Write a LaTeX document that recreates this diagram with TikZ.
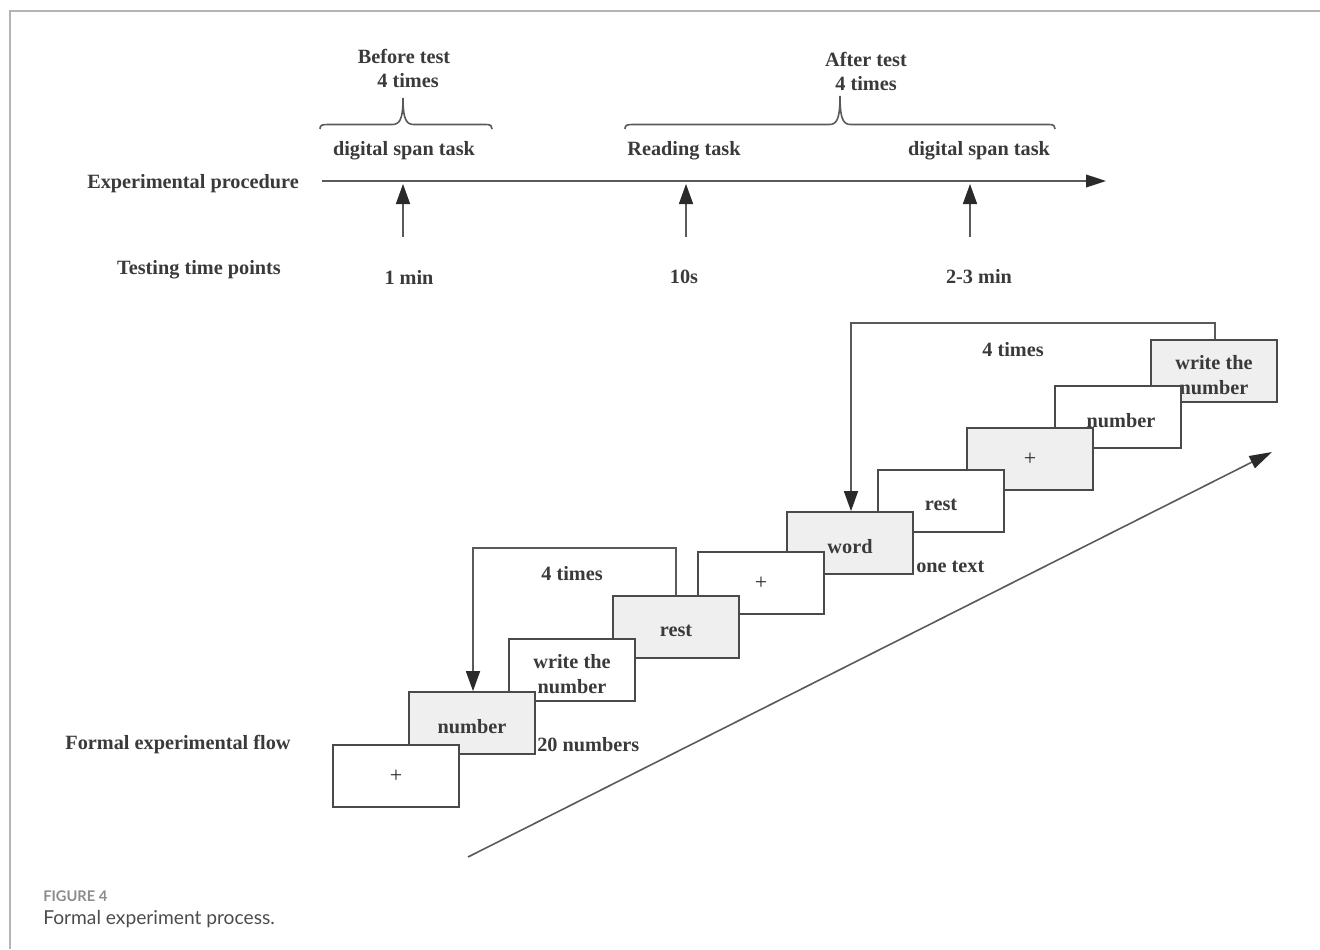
\documentclass[tikz,border=0pt]{standalone}
\usepackage{fontspec}
\setmainfont{Liberation Serif}
\newfontfamily\capfont{Lato}
\usetikzlibrary{arrows.meta}
\definecolor{ink}{HTML}{3A3A3A}
\definecolor{linec}{HTML}{5A5A5A}
\definecolor{boxline}{HTML}{4A4A4A}
\definecolor{headc}{HTML}{2A2A2A}
\definecolor{boxgray}{HTML}{EFEFEF}
\definecolor{framec}{HTML}{B4B4B4}
\begin{document}
\begin{tikzpicture}[x=0.75pt,y=-0.75pt,
  lbl/.style={font=\fontsize{15.2}{18.75}\selectfont\bfseries, text=ink, inner sep=0pt},
  stim/.style={draw=boxline, line width=1.3pt, minimum width=94.5pt, minimum height=46.5pt, inner sep=0pt},
  wbox/.style={stim, fill=white},
  gbox/.style={stim, fill=boxgray},
  btxt/.style={lbl, align=center, yshift=-3pt},
  plus/.style={font=\fontsize{16.5}{16.5}\selectfont, text=headc, inner sep=0pt},
  conn/.style={draw=linec, line width=1.2pt},
  tip/.style={-{Triangle[length=15pt,width=10.5pt,color=headc]}},
  brc/.style={draw=linec, line width=1.2pt}
]
\useasboundingbox (0,0) rectangle (1320,949);
\draw[framec, line width=1.5pt] (10,949) -- (10,11) -- (1320,11);

% ---- top: procedure timeline ----
\node[lbl] (bt) at (404,56) {Before test};
\node[lbl] (bt4) at (408,81) {4 times};
\node[lbl] (at) at (866,59) {After test};
\node[lbl] (at4) at (866,84) {4 times};

\draw[brc] (320,129) .. controls (320,125) and (322,124.5) .. (328,124.5) -- (392,124.5)
  .. controls (399,124.5) and (403,121) .. (403,98)
  .. controls (403,121) and (407,124.5) .. (414,124.5) -- (486,124.5)
  .. controls (491,124.5) and (492,126) .. (492,129);
\draw[brc] (625,129) .. controls (625,125) and (627,124.5) .. (633,124.5) -- (829,124.5)
  .. controls (836,124.5) and (840,121) .. (840,96)
  .. controls (840,121) and (844,124.5) .. (851,124.5) -- (1049,124.5)
  .. controls (1054,124.5) and (1055,126) .. (1055,129);

\node[lbl] (ds1) at (404,151) {digital span task};
\node[lbl] (rt) at (684,151) {Reading task};
\node[lbl] (ds2) at (979,151) {digital span task};

\node[lbl] (ep) at (193,184) {Experimental procedure};
\coordinate (tl0) at (322,181);
\coordinate (tl1) at (1106,181);
\draw[conn, -{Triangle[length=15pt,width=9.5pt,color=headc]}] (tl0) -- (tl1);

\coordinate (p1) at (403,184);
\coordinate (p2) at (686,184);
\coordinate (p3) at (970,184);
\coordinate (q1) at (403,237);
\coordinate (q2) at (686,237);
\coordinate (q3) at (970,237);
\draw[conn, tip] (q1) -- (p1);
\draw[conn, tip] (q2) -- (p2);
\draw[conn, tip] (q3) -- (p3);

\node[lbl] (ttp) at (199,270) {Testing time points};
\node[lbl] (t1) at (409,277) {1 min};
\node[lbl] (t2) at (684,277) {10s};
\node[lbl] (t3) at (979,277) {2-3 min};

% ---- bottom: formal flow ----
\node[lbl] (ff) at (178,745) {Formal experimental flow};

\node[gbox] (b10) at (1214,371) {};
\node[btxt] (b10t) at (b10) {write the\\number};
\node[wbox] (b9)  at (1118,417) {};
\node[btxt] (b9t) at (1121,417) {number};
\node[gbox] (b8)  at (1030,459) {};
\node[plus] (b8t) at (b8) {+};
\node[wbox] (b7)  at (941,501) {};
\node[btxt] (b7t) at (b7) {rest};
\node[gbox] (b6)  at (850,543) {};
\node[btxt] (b6t) at (b6) {word};
\node[wbox] (b5)  at (761,583) {};
\node[plus] (b5t) at (b5) {+};
\node[gbox] (b4)  at (676,627) {};
\node[btxt] (b4t) at (b4) {rest};
\node[wbox] (b3)  at (572,670) {};
\node[btxt] (b3t) at (b3) {write the\\number};
\node[gbox] (b2)  at (472,723) {};
\node[btxt] (b2t) at (b2) {number};
\node[wbox] (b1)  at (396,776) {};
\node[plus] (b1t) at (b1) {+};

\node[lbl, anchor=west] (n20) at (537,745) {20 numbers};
\node[lbl, anchor=west] (ot) at (916,567) {one text};

% loops
\draw[conn, tip] (b4.north -| 676,0) -- (676,548) -- (473,548) -- (b2.north -| 473,0);
\node[lbl] (l1) at (572,574) {4 times};
\draw[conn, tip] (b10.north -| 1215,0) -- (1215,323) -- (851,323) -- (b6.north -| 851,0);
\node[lbl] (l2) at (1013,350) {4 times};

% diagonal time arrow
\coordinate (d0) at (468,857);
\coordinate (d1) at (1272,452);
\draw[conn, -{Triangle[length=17pt,width=10pt,color=headc]}] (d0) -- (d1);

% caption
\node[anchor=base west, inner sep=0pt, text=black!45, font=\capfont\bfseries\fontsize{11}{12}\selectfont] (fig) at (43,901) {FIGURE 4};
\node[anchor=base west, inner sep=0pt, text=black!70, font=\capfont\fontsize{14.4}{16}\selectfont] (cap) at (43,924) {Formal experiment process.};
\end{tikzpicture}
\end{document}
